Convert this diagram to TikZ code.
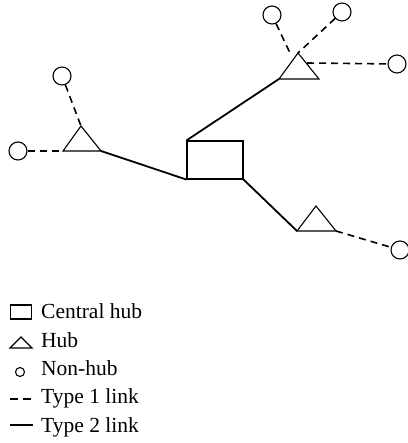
\documentclass[tikz,border=0pt]{standalone}
\usepackage{fontspec}
\setmainfont{Liberation Serif}
\begin{document}
\begin{tikzpicture}[x=1pt,y=-1pt,
  thin line/.style={line width=1.1pt},
  link1/.style={line width=1.6pt,dash pattern=on 7pt off 5pt},
  link2/.style={line width=1.8pt},
  nonhub/.style={circle,draw,line width=1.1pt,minimum size=18pt,inner sep=0pt},
  legsym/.style={line width=1.1pt},
  legtext/.style={anchor=base west,inner sep=0pt,font=\fontsize{21.5}{24}\selectfont}]
\useasboundingbox (0,0) rectangle (407,443);
% central hub
\node[draw,line width=1.1pt,minimum width=56pt,minimum height=38pt,inner sep=0pt] (C) at (215,160) {};
% hubs (triangles)
\coordinate (TRa) at (298,53); \coordinate (TRl) at (279,79); \coordinate (TRr) at (319,79);
\coordinate (TLa) at (81,126); \coordinate (TLl) at (63,151); \coordinate (TLr) at (101,151);
\coordinate (BRa) at (316,206); \coordinate (BRl) at (297,231); \coordinate (BRr) at (336,231);
\draw[thin line,line join=miter] (TRa) -- (TRl) -- (TRr) -- cycle;
\draw[thin line,line join=miter] (TLa) -- (TLl) -- (TLr) -- cycle;
\draw[thin line,line join=miter] (BRa) -- (BRl) -- (BRr) -- cycle;
\coordinate (TRe) at (307,63);
\coordinate (TRn) at (290,53);
% non-hubs
\node[nonhub] (n1) at (272,15) {};
\node[nonhub] (n2) at (342,12) {};
\node[nonhub] (n3) at (397,64) {};
\node[nonhub] (n4) at (62,76) {};
\node[nonhub] (n5) at (18,151) {};
\node[nonhub] (n6) at (400,250) {};
% type 2 links
\draw[link2] (C.north west) -- (TRl);
\draw[link2] (TLr) -- (C.south west);
\draw[link2] (C.south east) -- (BRl);
% type 1 links
\draw[link1] (n1) -- (TRn);
\draw[link1] (n2) -- (TRa);
\draw[link1] (TRe) -- (n3);
\draw[link1] (n4) -- (TLa);
\draw[link1] (n5) -- (TLl);
\draw[link1] (BRr) -- (n6);
% legend
\node[draw,legsym,minimum width=21pt,minimum height=14pt,inner sep=0pt] (L1) at (21,312) {};
\coordinate (L2a) at (21,337); \coordinate (L2l) at (10,348); \coordinate (L2r) at (32,348);
\draw[legsym,line join=miter] (L2a) -- (L2l) -- (L2r) -- cycle;
\node[circle,draw,legsym,minimum size=9pt,inner sep=0pt] (L3) at (20,372) {};
\coordinate (L4a) at (10,399); \coordinate (L4b) at (32,399);
\draw[line width=1.4pt,dash pattern=on 8pt off 5pt] (L4a) -- (L4b);
\coordinate (L5a) at (10,425); \coordinate (L5b) at (33,425);
\draw[line width=1.6pt] (L5a) -- (L5b);
\node[legtext] (t1) at (41,318) {Central hub};
\node[legtext] (t2) at (41,347) {Hub};
\node[legtext] (t3) at (41,375) {Non-hub};
\node[legtext] (t4) at (41,403) {Type 1 link};
\node[legtext] (t5) at (41,432) {Type 2 link};
\end{tikzpicture}
\end{document}
